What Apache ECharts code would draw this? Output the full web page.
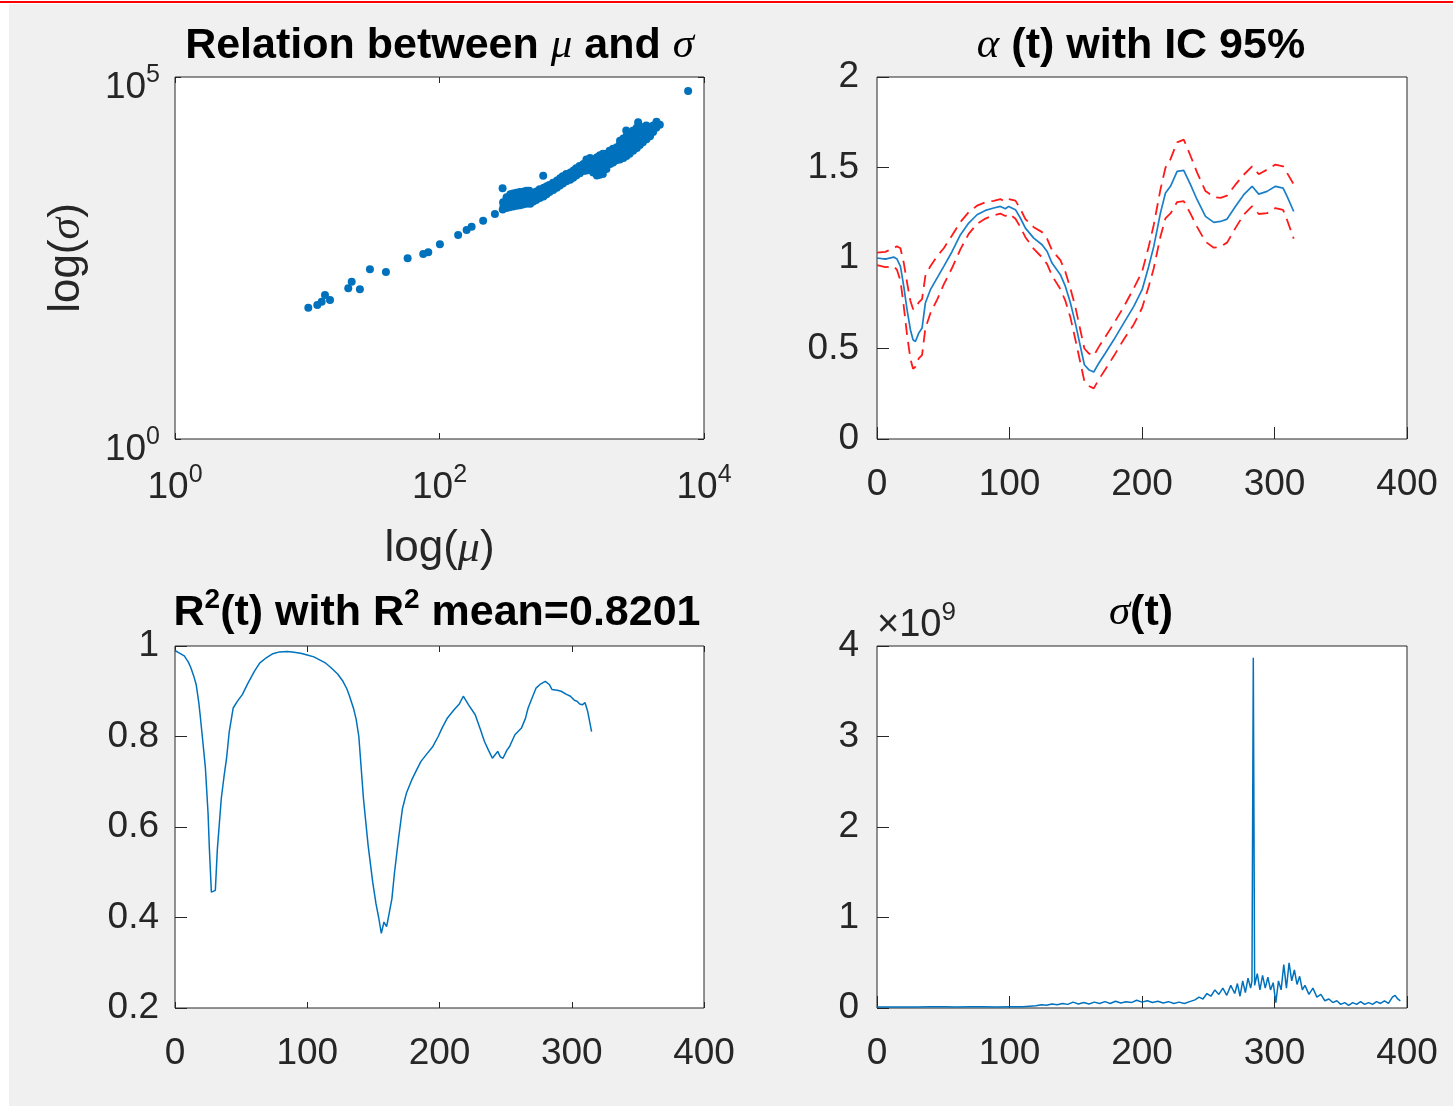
<!DOCTYPE html>
<html>
<head>
<meta charset="utf-8">
<script src="https://cdn.jsdelivr.net/npm/echarts/dist/echarts.min.js"></script>
<style>html,body{margin:0;padding:0;background:#fff}#c{width:1453px;height:1106px}</style>
</head>
<body>
<div id="c"></div>
<script>
// ---------- DATA ----------
// Panel 1: relation between mu and sigma (decimal exponents)
const scatterMuExp = [
  1.008,1.076,1.109,1.134,1.172,1.310,1.336,1.398,1.474,1.595,1.759,1.877,1.915,2.003,2.141,2.205,2.243,2.330,2.419,2.477,2.784,3.502,3.880,
  2.478,2.484,2.481, 2.530,2.535,2.528,2.536, 2.585,2.580,2.587,2.581, 2.630,2.636,2.631,2.638,
  2.686,2.680,2.684,2.679, 2.731,2.737,2.733, 2.786,2.781,2.788, 2.832,2.837,2.830,
  2.887,2.882,2.889, 2.933,2.938,2.931, 2.988,2.983,2.990, 3.034,3.039,3.033, 3.089,3.083,3.088,
  3.135,3.140,3.134,3.139, 3.190,3.184,3.189,3.185,3.191, 3.235,3.240,3.234,3.239,3.236,
  3.290,3.285,3.291,3.286, 3.337,3.342,3.336,3.341, 3.391,3.386,3.392,3.387,3.390,
  3.437,3.442,3.436,3.441,3.438, 3.492,3.487,3.493,3.488,3.491, 3.538,3.543,3.537,3.542,
  3.592,3.587,3.593, 3.639,3.644, 3.641,3.666,3.616,
  2.506,2.509,2.504,2.507, 2.557,2.554,2.559,2.556, 2.608,2.605,2.611,2.607, 2.658,2.661,2.655,2.659,
  2.709,2.706,2.712, 2.759,2.762,2.757, 2.809,2.806,2.811, 2.860,2.863,2.858, 2.910,2.907,2.912,
  2.960,2.963,2.958, 3.011,3.008,3.013, 3.061,3.064,3.059, 3.112,3.109,3.114,3.111,
  3.162,3.165,3.160,3.163, 3.212,3.209,3.214,3.211,3.213, 3.262,3.265,3.260,3.263,
  3.313,3.310,3.315,3.312, 3.364,3.361,3.366,3.363,3.365, 3.414,3.411,3.416,3.413,3.415,3.412,
  3.464,3.461,3.466,3.463,3.465, 3.515,3.512,3.517,3.514, 3.565,3.562,3.567,3.564, 3.615,3.612
];
const scatterSigmaExp = [
  1.813,1.851,1.896,1.989,1.920,2.081,2.173,2.068,2.344,2.307,2.496,2.555,2.579,2.689,2.818,2.887,2.932,3.015,3.108,3.463,3.637,4.374,4.807,
  3.17,3.22,3.27, 3.20,3.26,3.32,3.38, 3.22,3.28,3.34,3.40, 3.24,3.30,3.36,3.42,
  3.25,3.31,3.37,3.43, 3.30,3.36,3.42, 3.35,3.41,3.47, 3.41,3.46,3.51,
  3.47,3.52,3.57, 3.53,3.58,3.63, 3.58,3.63,3.68, 3.64,3.69,3.74, 3.70,3.75,3.80,
  3.72,3.78,3.84,3.88, 3.64,3.70,3.77,3.83,3.89, 3.66,3.74,3.82,3.89,3.94,
  3.80,3.87,3.93,3.98, 3.85,3.91,3.97,4.03, 3.88,3.95,4.02,4.09,4.15,
  3.94,4.01,4.08,4.15,4.22, 4.02,4.09,4.16,4.23,4.30, 4.10,4.17,4.24,4.31,
  4.18,4.25,4.31, 4.30,4.35, 4.383,4.34,4.33,
  3.19,3.24,3.29,3.34, 3.21,3.27,3.33,3.39, 3.23,3.29,3.35,3.41, 3.25,3.31,3.37,3.43,
  3.28,3.34,3.40, 3.33,3.39,3.45, 3.38,3.44,3.49, 3.44,3.49,3.54, 3.50,3.55,3.60,
  3.56,3.61,3.66, 3.61,3.66,3.71, 3.67,3.72,3.77, 3.71,3.77,3.82,3.86,
  3.68,3.74,3.80,3.86, 3.65,3.72,3.79,3.86,3.92, 3.73,3.80,3.87,3.94,
  3.82,3.89,3.95,4.01, 3.86,3.93,4.00,4.06,4.12, 3.91,3.98,4.05,4.12,4.19,4.26,
  3.98,4.05,4.12,4.19,4.26, 4.06,4.13,4.20,4.27, 4.14,4.21,4.28,4.33, 4.24,4.30
];

// Panel 2: alpha(t) with 95% confidence interval
const alphaT = [0,6.3,12.6,15.1,17.7,20.2,22.7,25.2,27.2,29,31.5,34,36.5,40.3,45.3,50.4,56.7,63,69.2,75.5,81.8,88.1,93.1,96.9,99.4,104.5,108.2,112,118.3,124.6,128.4,132.1,138.4,142.2,146,149.7,153.5,156.5,159.8,163.6,167.4,172.4,178.7,186.2,193.8,200.1,205.1,208.9,213.9,217.7,221.5,226.5,231.5,236.6,241.6,247.9,254.2,259.2,264.2,270.5,276.8,283.1,288.1,294.4,300.7,306.5,309.5,314.5];
const alphaMid = [1.000,0.994,1.005,0.994,0.954,0.843,0.714,0.604,0.548,0.539,0.585,0.613,0.751,0.825,0.889,0.954,1.036,1.129,1.193,1.239,1.263,1.276,1.285,1.272,1.285,1.267,1.221,1.165,1.110,1.073,1.036,0.972,0.908,0.843,0.751,0.640,0.511,0.410,0.383,0.370,0.419,0.475,0.548,0.640,0.733,0.825,0.954,1.064,1.248,1.359,1.396,1.479,1.484,1.405,1.322,1.230,1.197,1.202,1.215,1.285,1.350,1.396,1.353,1.368,1.396,1.386,1.340,1.257];
const alphaUpper = [1.030,1.034,1.055,1.064,1.054,0.973,0.864,0.764,0.718,0.719,0.755,0.773,0.901,0.955,1.009,1.054,1.126,1.199,1.253,1.289,1.308,1.316,1.325,1.312,1.325,1.317,1.271,1.215,1.170,1.143,1.106,1.042,0.988,0.923,0.831,0.730,0.601,0.500,0.473,0.460,0.509,0.565,0.638,0.730,0.833,0.925,1.064,1.184,1.378,1.499,1.546,1.639,1.654,1.565,1.472,1.370,1.337,1.332,1.345,1.405,1.460,1.506,1.463,1.488,1.516,1.506,1.470,1.407];
const alphaLower = [0.960,0.949,0.955,0.934,0.874,0.733,0.574,0.444,0.388,0.399,0.445,0.463,0.611,0.695,0.769,0.854,0.946,1.049,1.133,1.189,1.218,1.236,1.245,1.232,1.245,1.217,1.171,1.115,1.050,1.003,0.966,0.902,0.828,0.763,0.671,0.550,0.421,0.320,0.293,0.280,0.329,0.385,0.458,0.550,0.633,0.725,0.844,0.944,1.118,1.219,1.246,1.309,1.314,1.245,1.172,1.090,1.057,1.062,1.085,1.165,1.240,1.286,1.243,1.248,1.276,1.266,1.210,1.107];

// Panel 3: R^2(t)
const r2T = [0,3,7,10,12,14,16,18,19,21,23,25,26,27.5,30.5,32,35,37,39,41,44,47,51,55,60,64,69,74,79,85,90,95,100,105,109,114,118,123,127,130,132,135,137,139,142.5,146,149.5,152,154,156,158,160,162,164,166,169,172,175,179,183,186,190,195,199,202,206,211,215,218,222,227,231,234,237,240,244,246,248,251,253,257,262,265,267,270,273,276,280,283,285,289,292,296,299,302,304,306,308,310,312,315];
const r2V = [0.990,0.985,0.978,0.965,0.952,0.935,0.915,0.875,0.848,0.790,0.730,0.630,0.552,0.456,0.460,0.550,0.663,0.710,0.752,0.810,0.863,0.877,0.893,0.917,0.944,0.962,0.974,0.983,0.987,0.988,0.986,0.984,0.980,0.976,0.970,0.962,0.952,0.938,0.922,0.905,0.889,0.862,0.838,0.800,0.663,0.560,0.478,0.430,0.400,0.365,0.390,0.380,0.410,0.441,0.500,0.574,0.641,0.675,0.704,0.728,0.745,0.760,0.778,0.800,0.819,0.841,0.859,0.872,0.889,0.870,0.848,0.815,0.789,0.770,0.752,0.767,0.755,0.752,0.770,0.778,0.804,0.819,0.840,0.863,0.885,0.907,0.915,0.922,0.915,0.904,0.902,0.900,0.893,0.889,0.880,0.878,0.872,0.870,0.875,0.856,0.811];

// Panel 4: sigma(t), in units of 10^9
const sigmaT = [0,10,20,30,40,50,60,70,80,90,100,110,115,120,124,128,132,136,140,144,148,152,156,160,164,168,172,176,180,184,188,192,196,200,204,208,212,216,220,224,228,232,236,240,243,246,249,252,255,258,261,264,267,270,272,274,276,278,280,282,283,284,285,287,289,291,293,295,297,299,301,303,305,307,309,311,313,315,317,319,321,323,326,329,332,335,338,341,344,347,350,353,356,359,362,365,368,371,374,377,380,383,386,389,391,393,395];
const sigmaV = [0.01,0.01,0.012,0.012,0.015,0.015,0.012,0.015,0.015,0.012,0.015,0.015,0.02,0.025,0.035,0.03,0.045,0.035,0.05,0.04,0.065,0.045,0.06,0.045,0.065,0.05,0.07,0.05,0.075,0.055,0.07,0.06,0.085,0.065,0.08,0.06,0.075,0.055,0.07,0.05,0.065,0.05,0.07,0.09,0.12,0.10,0.16,0.13,0.20,0.15,0.22,0.14,0.25,0.16,0.27,0.13,0.30,0.17,0.33,0.22,0.30,3.87,0.25,0.38,0.20,0.36,0.22,0.34,0.20,0.28,0.06,0.30,0.20,0.48,0.22,0.50,0.30,0.42,0.26,0.35,0.20,0.25,0.15,0.22,0.12,0.15,0.08,0.10,0.06,0.08,0.04,0.06,0.03,0.06,0.04,0.07,0.04,0.06,0.04,0.07,0.05,0.08,0.05,0.12,0.14,0.10,0.08];

// Tick values
const linTicksX = {min:0, max:400, interval:100};
const alphaTicksY = {min:0, max:2, interval:0.5};
const r2TicksY = {min:0.2, max:1, interval:0.2};
const sigmaTicksY = {min:0, max:4, interval:1};

// ---------- STYLE / LAYOUT ----------
const FONT = '"Liberation Sans", Arial, Helvetica, sans-serif';
const SERIF = '"Liberation Serif", "DejaVu Serif", serif';
const INK = '#262626';
const BLUE = '#0072BD';
const TICK = 37, TITLE = 43, NAME = 44;
const TL = 6; // tick length; axes are shifted TL px into the box so outward ticks sit inside

const gridBoxes = [
  {left:175, top:77, width:529, height:362},
  {left:877, top:77, width:530, height:362},
  {left:175, top:646, width:529, height:362},
  {left:877, top:646, width:530, height:362}
];
const grids = gridBoxes.map(g => Object.assign({
  show:true, backgroundColor:'#ffffff', borderColor:INK, borderWidth:1,
  containLabel:false, outerBoundsMode:'none'
}, g));

function tickStyle(){ return {show:true, inside:false, length:TL, lineStyle:{color:INK, width:1}}; }
const supRich = {
  b:{fontSize:TICK, fontFamily:FONT, color:INK, lineHeight:50},
  s:{fontSize:25, fontFamily:FONT, color:INK, lineHeight:25, verticalAlign:'top'}
};
function expLabel(v){ const e = Math.round(Math.log10(v)); return '{b|10}{s|' + e + '}'; }

function linAxis(gi, pos, ticks, labels, margin){
  return Object.assign({
    type:'value', gridIndex:gi, position:pos, offset:-TL,
    axisLine:{show:false}, splitLine:{show:false}, axisTick:tickStyle(),
    axisLabel:{show:labels, color:INK, fontSize:TICK, fontFamily:FONT, margin:margin + TL, showMinLabel:true, showMaxLabel:true}
  }, ticks);
}
function logAxis(gi, pos, min, max, interval, split, labels, margin, pad, extra){
  return Object.assign({
    type:'log', logBase:10, gridIndex:gi, position:pos, offset:-TL, min:min, max:max, interval:interval, splitNumber:split,
    axisLine:{show:false}, splitLine:{show:false}, minorTick:{show:false}, axisTick:tickStyle(),
    axisLabel:{show:labels, formatter:expLabel, rich:supRich, margin:margin + TL, padding:pad, showMinLabel:true, showMaxLabel:true}
  }, extra || {});
}
const nameRich = {
  t:{fontSize:NAME, fontFamily:FONT, color:INK},
  g:{fontSize:NAME, fontFamily:SERIF, fontStyle:'italic', color:INK}
};

const xAxes = [
  logAxis(0,'bottom',1,10000,2,2,true,24,[0,0,0,0],{name:'{t|log(}{g|μ}{t|)}', nameLocation:'middle', nameGap:88 + TL, nameTextStyle:{rich:nameRich}}),
  logAxis(0,'top',1,10000,2,2,false,10,[0,0,0,0]),
  linAxis(1,'bottom',linTicksX,true,27), linAxis(1,'top',linTicksX,false,8),
  linAxis(2,'bottom',linTicksX,true,27), linAxis(2,'top',linTicksX,false,8),
  linAxis(3,'bottom',linTicksX,true,27), linAxis(3,'top',linTicksX,false,8)
];
const yAxes = [
  logAxis(0,'left',1,100000,5,1,true,15,[22,0,0,0],{name:'{t|log(}{g|σ}{t|)}', nameLocation:'middle', nameGap:86 + TL, nameRotate:90, nameTextStyle:{rich:nameRich}}),
  logAxis(0,'right',1,100000,5,1,false,10,[0,0,0,0]),
  linAxis(1,'left',alphaTicksY,true,18), linAxis(1,'right',alphaTicksY,false,8),
  linAxis(2,'left',r2TicksY,true,16), linAxis(2,'right',r2TicksY,false,8),
  linAxis(3,'left',sigmaTicksY,true,18), linAxis(3,'right',sigmaTicksY,false,8)
];

const scatterData = scatterMuExp.map((m,i) => [Math.pow(10,m), Math.pow(10,scatterSigmaExp[i])]);
const zip = (a,b) => a.map((v,i) => [v,b[i]]);

const series = [
  {type:'scatter', xAxisIndex:0, yAxisIndex:0, data:scatterData, symbol:'circle', symbolSize:8, itemStyle:{color:BLUE, opacity:1}},
  {type:'line', xAxisIndex:2, yAxisIndex:2, data:zip(alphaT,alphaUpper), showSymbol:false, lineStyle:{color:'#ff1a1a', width:1.8, type:[12,7]}},
  {type:'line', xAxisIndex:2, yAxisIndex:2, data:zip(alphaT,alphaLower), showSymbol:false, lineStyle:{color:'#ff1a1a', width:1.8, type:[12,7]}},
  {type:'line', xAxisIndex:2, yAxisIndex:2, data:zip(alphaT,alphaMid), showSymbol:false, lineStyle:{color:'#1a7fc8', width:1.7}},
  {type:'line', xAxisIndex:4, yAxisIndex:4, data:zip(r2T,r2V), showSymbol:false, lineStyle:{color:BLUE, width:1.5}},
  {type:'line', xAxisIndex:6, yAxisIndex:6, data:zip(sigmaT,sigmaV), showSymbol:false, lineStyle:{color:BLUE, width:1.5}}
];

const titleRich = {
  b:{fontSize:TITLE, fontFamily:FONT, fontWeight:'bold', fill:'#000', color:'#000', lineHeight:54},
  g:{fontSize:TITLE, fontFamily:SERIF, fontStyle:'italic', fill:'#000', color:'#000', lineHeight:54},
  s:{fontSize:28, fontFamily:FONT, fontWeight:'bold', fill:'#000', color:'#000', lineHeight:28, verticalAlign:'top'},
  n:{fontSize:38, fontFamily:FONT, fill:INK, color:INK, lineHeight:52},
  ns:{fontSize:26, fontFamily:FONT, fill:INK, color:INK, lineHeight:26, verticalAlign:'top'}
};
function txt(x, y, text, align){
  return {type:'text', x:x, y:y, z:10, style:{text:text, rich:titleRich, align:align||'center', verticalAlign:'middle', fontSize:TITLE, fontFamily:FONT, fill:'#000'}};
}

const option = {
  animation:false,
  backgroundColor:'#f0f0f0',
  grid:grids, xAxis:xAxes, yAxis:yAxes, series:series,
  graphic:[
    {type:'rect', shape:{x:0, y:0, width:9, height:1106}, style:{fill:'#ffffff'}, z:-1},
    {type:'rect', shape:{x:0, y:0, width:1453, height:4}, style:{fill:'#ffffff'}, z:-1},
    {type:'rect', shape:{x:0, y:1, width:1453, height:2}, style:{fill:'#ff0000'}, z:0},
    txt(439.5, 46, '{b|Relation between }{g|μ}{b| and }{g|σ}'),
    txt(1141, 46, '{g|α}{b| (t) with IC 95%}'),
    txt(437, 613, '{b|R}{s|2}{b|(t) with R}{s|2}{b| mean=0.8201}'),
    txt(1141, 613, '{g|σ}{b|(t)}'),
    txt(877, 626, '{n|×10}{ns|9}', 'left')
  ]
};
const chart = echarts.init(document.getElementById('c'), null, {renderer:'canvas'});
chart.setOption(option);
</script>
</body>
</html>
